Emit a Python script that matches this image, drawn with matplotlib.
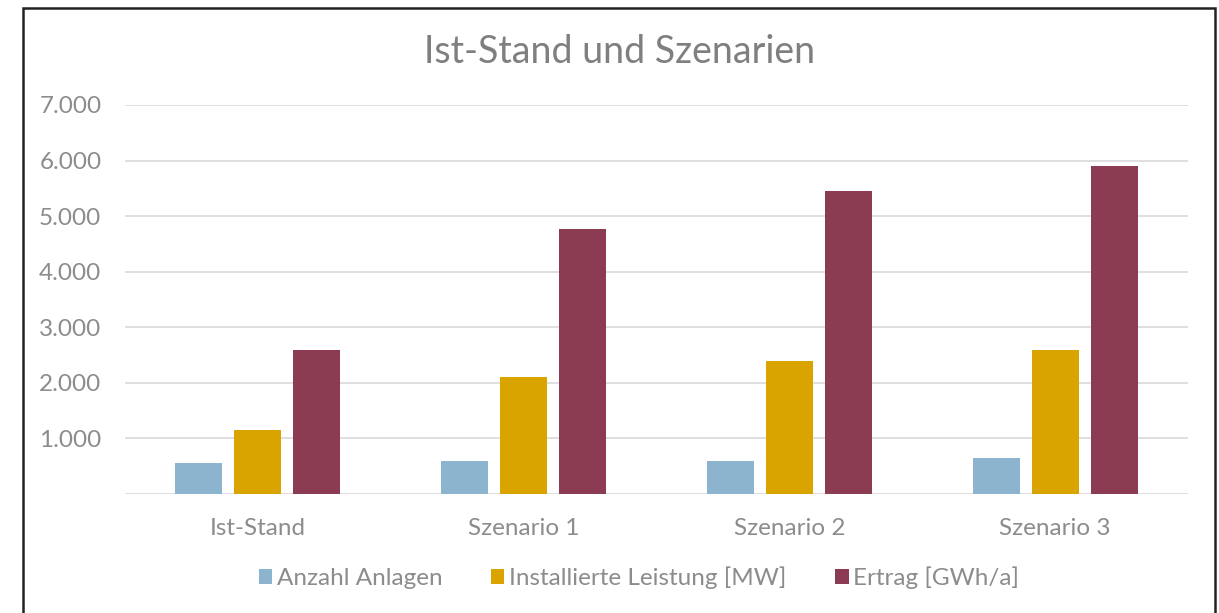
import numpy as np
import matplotlib.pyplot as plt
from matplotlib.patches import Rectangle

categories = ['Ist-Stand', 'Szenario 1', 'Szenario 2', 'Szenario 3']
anzahl = [560, 600, 600, 650]
leistung = [1150, 2100, 2400, 2600]
ertrag = [2600, 4770, 5450, 5900]

series = ['Anzahl Anlagen', 'Installierte Leistung [MW]', 'Ertrag [GWh/a]']
colors = ['#8DB4CF', '#D9A300', '#8B3C52']

plt.rcParams['font.family'] = ['Lato', 'DejaVu Sans']
txt = '#8C8C8C'

fig = plt.figure(figsize=(12.19, 6.13), dpi=100)
ax = fig.add_axes([125/1219, 1 - 494/613, (1188-125)/1219, (494-105)/613])

x = np.arange(len(categories))
w = 0.177
off = 0.222
for i, (vals, lab, c) in enumerate(zip([anzahl, leistung, ertrag], series, colors)):
    ax.bar(x + (i - 1) * off, vals, w, color=c, label=lab, zorder=3)

ax.set_xlim(-0.5, 3.5)
ax.set_ylim(0, 7000)
ax.set_yticks(range(0, 7001, 1000))
ax.set_yticklabels([''] + ['{:,}'.format(v).replace(',', '.') for v in range(1000, 7001, 1000)])
ax.set_xticks(x)
ax.set_xticklabels(categories)
ax.tick_params(length=0, colors=txt, labelsize=17.5)
ax.tick_params(axis='x', pad=17)
ax.tick_params(axis='y', pad=17)
ax.grid(axis='y', color='#D9D9D9', linewidth=1.2, zorder=0)
for s in ax.spines.values():
    s.set_visible(False)

fig.text(620/1219, 1 - 52/613, 'Ist-Stand und Szenarien', ha='center', va='center',
         fontsize=27, color='#7F7F7F')

leg = fig.legend(loc='center', bbox_to_anchor=(639/1219, 1 - 578/613), ncol=3, frameon=False,
                 fontsize=17.5, handlelength=0.55, handleheight=0.55, handletextpad=0.2,
                 columnspacing=2.0, labelcolor=txt)

# chart frame (bottom edge lies outside the picture)
fig.patches.append(Rectangle((23/1219, -0.1), (1215-23)/1219, 1.1 - 8/613,
                             transform=fig.transFigure, fill=False,
                             edgecolor='#222222', linewidth=1.8))

fig.savefig('out.png', dpi=100)
